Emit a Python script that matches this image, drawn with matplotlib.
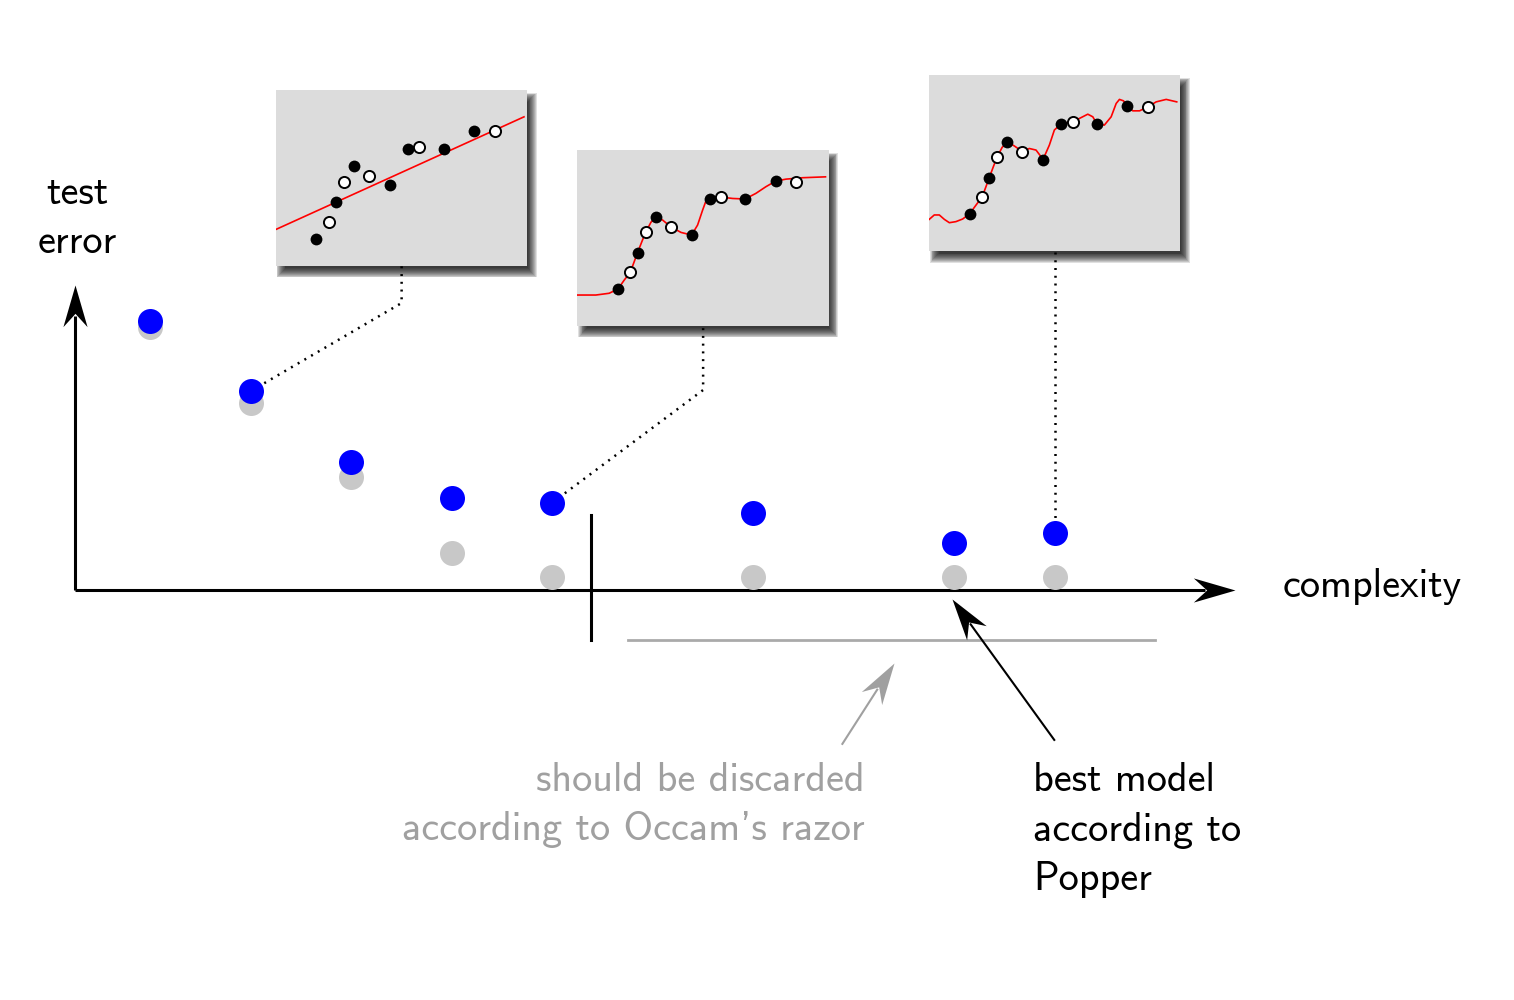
import numpy as np
import matplotlib.pyplot as plt
from matplotlib.patches import Rectangle
from matplotlib.path import Path
from matplotlib.markers import MarkerStyle
from matplotlib.transforms import Affine2D

plt.rcParams['font.family'] = ['cmss10', 'DejaVu Sans']
plt.rcParams['axes.unicode_minus'] = False

# ---- data ----
# model complexity and the two error curves (diagram units)
complexity = [1, 2, 3, 4, 5, 7, 9, 10]
test_error = [2.68, 1.98, 1.27, 0.92, 0.87, 0.77, 0.47, 0.57]
train_error = [2.62, 1.86, 1.12, 0.37, 0.13, 0.13, 0.13, 0.13]

# sample points shown in every inset (black = training, white = held out)
pts_x = [1.61, 2.10, 2.39, 2.71, 3.11, 3.71, 4.54, 5.26, 5.71, 6.67, 7.89, 8.71]
pts_y = [2.10, 3.05, 4.17, 5.32, 6.21, 5.64, 5.17, 7.22, 7.33, 7.22, 8.24, 8.20]
is_train = [1, 0, 1, 0, 1, 0, 1, 1, 0, 1, 1, 0]

# fitted models
line_x = [0.0, 9.87]
line_y = [2.63, 9.03]
smooth_x = [0.0, 0.73, 1.26, 1.61, 1.86, 2.10, 2.39, 2.56, 2.71, 2.92, 3.11, 3.39,
            3.71, 4.12, 4.54, 4.78, 4.98, 5.11, 5.26, 5.71, 6.18, 6.67, 7.10, 7.50,
            7.89, 8.30, 8.96, 9.87]
smooth_y = [1.76, 1.76, 1.86, 2.10, 2.61, 3.05, 4.17, 4.79, 5.32, 5.89, 6.21, 6.02,
            5.64, 5.32, 5.17, 5.74, 6.59, 7.10, 7.22, 7.33, 7.25, 7.22, 7.54, 7.92,
            8.24, 8.35, 8.43, 8.48]
wiggly_x = [0.0, 0.20, 0.40, 0.60, 0.80, 1.06, 1.33, 1.61, 1.86, 2.11, 2.39, 2.55,
            2.70, 2.90, 3.11, 3.39, 3.72, 3.98, 4.25, 4.53, 4.78, 4.98, 5.25, 5.70,
            5.98, 6.31, 6.51, 6.67, 6.97, 7.24, 7.44, 7.57, 7.73, 7.89, 8.10, 8.37,
            8.71, 9.03, 9.43, 9.85]
wiggly_y = [1.80, 2.05, 2.05, 1.80, 1.61, 1.67, 1.82, 2.12, 2.61, 3.09, 4.17, 4.79,
            5.34, 5.89, 6.21, 5.97, 5.64, 5.83, 5.74, 5.21, 6.02, 6.88, 7.23, 7.35,
            7.54, 7.78, 7.63, 7.23, 7.16, 7.63, 8.39, 8.62, 8.54, 8.24, 7.97, 7.97,
            8.20, 8.48, 8.62, 8.48]

# ---- layout ----
PX = 100.5  # pixels per diagram unit
fig = plt.figure(figsize=(15.14, 10), dpi=100)
ax = fig.add_axes([0, 0, 1, 1])
ax.set_xlim(0.25 - 75 / PX, 0.25 + (1514 - 75) / PX)
ax.set_ylim(-(1000 - 590) / PX, 590 / PX)
ax.axis('off')

STEALTH = Path([(0, 0), (-1, 0.29), (-0.68, 0), (-1, -0.29), (0, 0)],
               [Path.MOVETO, Path.LINETO, Path.LINETO, Path.LINETO, Path.CLOSEPOLY])


def stealth_arrow(x0, y0, x1, y1, color, lw):
    ang = np.arctan2(y1 - y0, x1 - x0)
    back = 0.3
    ax.plot([x0, x1 - back * np.cos(ang)], [y0, y1 - back * np.sin(ang)],
            color=color, lw=lw, solid_capstyle='butt', zorder=3)
    m = MarkerStyle(STEALTH, transform=Affine2D().rotate(ang))
    ax.plot([x1], [y1], marker=m, markersize=60, color=color, mew=0, zorder=3)


# axes of the diagram
stealth_arrow(0.25, 0, 11.79, 0, 'black', 2.2)
stealth_arrow(0.25, 0, 0.25, 3.03, 'black', 2.2)
ax.plot([5.38, 5.38], [0.75, -0.5], color='black', lw=2.2, zorder=3)
ax.plot([5.75, 11.0], [-0.5, -0.5], color='#aaaaaa', lw=2.0, zorder=3)

# errors
ax.plot(complexity, train_error, 'o', color='#c8c8c8', ms=18, mew=0, zorder=4)
ax.plot(complexity, test_error, 'o', color='#0000ff', ms=18, mew=0, zorder=5)

# insets: (complexity index, centre x, bottom, elbow y, fit, ylim shift)
W, H = 2.5, 1.75
insets = [
    (1, 3.5, 3.224, 2.856, (line_x, line_y), 0.55),
    (4, 6.5, 2.627, 1.99, (smooth_x, smooth_y), 0.0),
    (7, 10.0, 3.373, None, (wiggly_x, wiggly_y), 0.0),
]
to_fig = ax.transData + fig.transFigure.inverted()
for idx, cx, bottom, elbow, (fx, fy), shift in insets:
    dx, dy = complexity[idx], test_error[idx]
    if elbow is None:
        xs, ys = [dx, cx], [dy, bottom]
    else:
        xs, ys = [dx, cx, cx], [dy, elbow, bottom]
    ax.plot(xs, ys, color='black', lw=1.8, dashes=(0.8, 2.3), zorder=2)

    left = cx - W / 2
    # soft drop shadow
    for k in range(11):
        g = (k - 5) * 0.9 / PX
        ax.add_patch(Rectangle((left + 5 / PX - g, bottom - 7 / PX - g), W + 2 * g, H + 2 * g,
                               color='black', alpha=0.12, lw=0, zorder=1))
    (x0, y0), (x1, y1) = to_fig.transform([(left, bottom), (left + W, bottom + H)])
    iax = fig.add_axes([x0, y0, x1 - x0, y1 - y0])
    iax.set_facecolor('#dcdcdc')
    for s in iax.spines.values():
        s.set_visible(False)
    iax.set_xticks([])
    iax.set_yticks([])
    iax.set_xlim(0, 10)
    iax.set_ylim(shift, 10 + shift)
    iax.plot(fx, fy, color='red', lw=1.2, solid_joinstyle='round', zorder=1)
    tx = [x for x, t in zip(pts_x, is_train) if t]
    ty = [y for y, t in zip(pts_y, is_train) if t]
    vx = [x for x, t in zip(pts_x, is_train) if not t]
    vy = [y for y, t in zip(pts_y, is_train) if not t]
    iax.plot(tx, ty, 'o', color='black', ms=8.5, mew=0, zorder=2)
    iax.plot(vx, vy, 'o', mfc='white', mec='black', ms=8, mew=1.4, zorder=2)

# annotations
stealth_arrow(10.0, -1.5, 8.98, -0.09, 'black', 1.5)
stealth_arrow(7.88, -1.54, 8.40, -0.73, '#a0a0a0', 1.5)

ax.text(0.27, 3.70, 'test\nerror', ha='center', va='center', fontsize=29, linespacing=1.43)
ax.text(12.27, -0.07, 'complexity', ha='left', va='baseline', fontsize=29)
ax.text(8.11, -2.14, "should be discarded\naccording to Occam's razor", ha='right',
        va='center', multialignment='right', fontsize=29, color='#a0a0a0', linespacing=1.43)
ax.text(9.78, -2.39, 'best model\naccording to\nPopper', ha='left', va='center',
        fontsize=29, linespacing=1.43)

fig.savefig('out.png', dpi=100)
